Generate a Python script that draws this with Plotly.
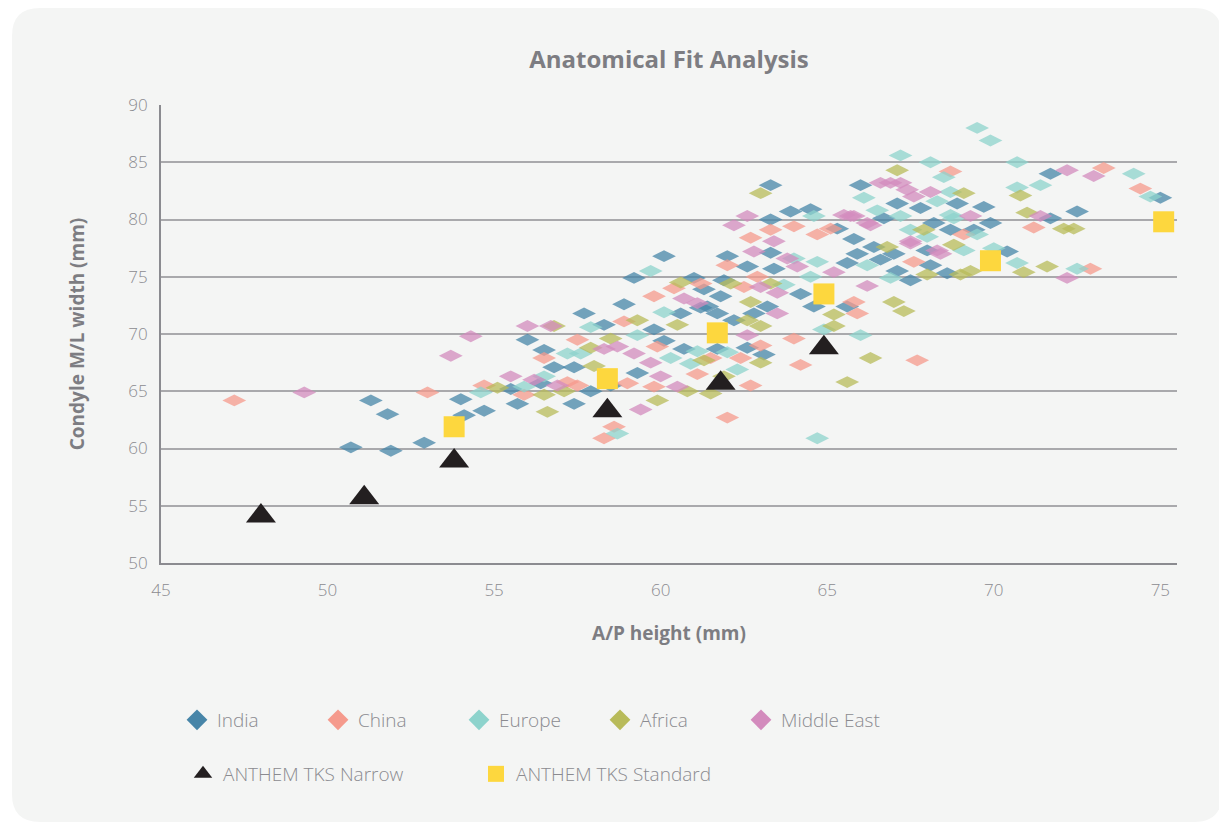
import plotly.graph_objects as go

# ---------------- data ----------------
india_x = [50.7, 51.3, 51.8, 51.9, 52.9, 54.0, 54.1, 54.7, 55.5, 55.7, 56.0, 56.5, 56.4, 56.8, 57.4, 57.4,
           57.7, 57.9, 58.3, 58.5, 58.9, 59.2, 59.3, 59.8, 60.1, 60.1, 60.6, 60.7, 61.0, 61.2, 61.3, 61.4,
           61.7, 61.7, 61.8, 61.9, 62.0, 62.2, 62.6, 62.6, 62.8, 63.1, 63.2, 63.3, 63.3, 63.3, 63.4, 63.9,
           64.2, 64.5, 64.6, 65.3, 65.6, 65.6, 65.8, 65.9, 66.0, 66.4, 66.6, 66.7, 67.0, 67.1, 67.1, 67.5,
           67.8, 68.0, 68.1, 68.2, 68.6, 68.7, 68.9, 69.4, 69.7, 69.9, 70.4, 71.7, 71.7, 72.5, 75.0]
india_y = [60.1, 64.2, 63.0, 59.8, 60.5, 64.3, 62.9, 63.3, 65.2, 63.9, 69.5, 68.6, 65.7, 67.1, 67.1, 63.9,
           71.8, 65.0, 70.8, 65.5, 72.6, 74.9, 66.6, 70.4, 69.4, 76.8, 71.8, 68.7, 74.9, 72.3, 73.9, 72.4,
           71.8, 68.7, 73.3, 74.7, 76.8, 71.2, 75.9, 68.8, 71.8, 68.2, 72.4, 83.0, 80.0, 77.1, 75.7, 80.7,
           73.5, 80.9, 72.4, 79.2, 76.2, 72.4, 78.3, 77.0, 83.0, 77.6, 76.5, 80.1, 77.0, 81.4, 75.5, 74.7,
           81.0, 77.3, 76.0, 79.7, 75.3, 79.1, 81.4, 79.1, 81.1, 79.7, 77.2, 80.1, 84.0, 80.7, 81.9]

china_x = [47.2, 53.0, 54.7, 55.9, 56.5, 57.2, 57.5, 57.5, 58.3, 58.6, 58.9, 59.0, 59.8, 59.8, 59.9, 60.4,
           61.1, 61.2, 61.5, 62.0, 62.0, 62.4, 62.5, 62.7, 62.7, 62.9, 63.0, 63.3, 64.0, 64.0, 64.2, 64.7,
           65.1, 65.8, 65.9, 67.6, 67.7, 68.7, 69.1, 71.2, 72.9, 73.3, 74.4]
china_y = [64.2, 64.9, 65.5, 64.7, 67.9, 65.8, 69.5, 65.5, 60.9, 61.9, 71.1, 65.7, 73.3, 65.4, 68.9, 74.0,
           66.5, 74.4, 67.9, 62.7, 76.0, 67.9, 74.1, 78.4, 65.5, 75.0, 69.0, 79.1, 69.6, 79.4, 67.3, 78.7,
           79.2, 72.8, 71.8, 76.3, 67.7, 84.2, 78.7, 79.3, 75.7, 84.5, 82.7]

europe_x = [54.6, 55.9, 56.5, 57.2, 57.6, 57.9, 58.7, 59.3, 59.7, 60.1, 60.3, 60.9, 61.1, 62.0, 62.3, 63.7,
            64.0, 64.5, 64.6, 64.7, 64.7, 64.9, 66.0, 66.1, 66.2, 66.5, 66.9, 67.2, 67.2, 67.5, 68.0, 68.1,
            68.3, 68.5, 68.7, 68.7, 68.8, 69.1, 69.5, 69.5, 69.9, 70.0, 70.7, 70.7, 70.7, 71.4, 72.5, 74.2,
            74.7]
europe_y = [64.9, 65.4, 66.3, 68.3, 68.3, 70.6, 61.3, 69.9, 75.5, 71.9, 67.9, 67.4, 68.5, 68.4, 66.9, 74.3,
            76.6, 75.0, 80.3, 60.9, 76.3, 70.4, 69.9, 81.9, 76.0, 80.8, 74.9, 85.6, 80.3, 79.1, 78.5, 85.0,
            81.6, 83.7, 82.4, 80.4, 80.1, 77.3, 88.0, 78.7, 86.9, 77.5, 85.0, 82.8, 76.2, 83.0, 75.7, 84.0,
            82.0]

africa_x = [55.1, 56.5, 56.6, 56.8, 57.1, 57.9, 58.0, 58.5, 59.3, 59.9, 60.5, 60.6, 60.8, 61.3, 61.5, 61.9,
            62.1, 62.6, 62.7, 63.0, 63.0, 63.0, 63.3, 65.2, 65.2, 65.6, 66.3, 66.8, 67.0, 67.1, 67.3, 67.9,
            68.0, 68.8, 69.0, 69.1, 69.3, 70.8, 70.9, 71.0, 71.6, 72.1, 72.4]
africa_y = [65.3, 64.7, 63.2, 70.7, 65.0, 68.8, 67.2, 69.6, 71.2, 64.2, 70.8, 74.5, 65.0, 67.7, 64.8, 66.3,
            74.4, 71.2, 72.8, 82.3, 70.7, 67.5, 74.4, 70.7, 71.7, 65.8, 67.9, 77.6, 72.8, 84.3, 72.0, 79.1,
            75.2, 77.8, 75.2, 82.3, 75.5, 82.1, 75.4, 80.6, 75.9, 79.2, 79.2]

mideast_x = [49.3, 53.7, 54.3, 55.5, 56.0, 56.2, 56.7, 56.9, 58.3, 58.7, 59.2, 59.4, 59.7, 60.0, 60.5, 60.7,
             61.1, 62.2, 62.6, 62.6, 62.8, 63.0, 63.4, 63.5, 63.5, 63.8, 64.1, 65.2, 65.5, 65.7, 65.8, 66.2,
             66.2, 66.3, 66.6, 66.9, 67.2, 67.4, 67.5, 67.5, 67.6, 68.1, 68.3, 68.4, 69.3, 71.4, 72.2, 72.2,
             73.0]
mideast_y = [64.9, 68.1, 69.8, 66.3, 70.7, 66.0, 70.7, 65.5, 68.7, 68.9, 68.3, 63.4, 67.5, 66.3, 65.4, 73.1,
             72.7, 79.5, 80.3, 69.9, 77.2, 74.1, 78.1, 73.6, 71.8, 76.6, 75.9, 75.4, 80.4, 80.3, 80.3, 74.2,
             79.7, 79.5, 83.2, 83.2, 83.2, 82.6, 77.9, 78.1, 82.0, 82.4, 77.3, 77.0, 80.3, 80.3, 84.3, 74.9,
             83.8]

narrow_x = [48.0, 51.1, 53.8, 58.4, 61.8, 64.9]
narrow_y = [54.1, 55.7, 58.9, 63.3, 65.7, 68.8]

standard_x = [53.8, 58.4, 61.7, 64.9, 69.9, 75.1]
standard_y = [61.9, 66.1, 70.1, 73.5, 76.4, 79.8]

x_ticks = [45, 50, 55, 60, 65, 70, 75]
y_ticks = [50, 55, 60, 65, 70, 75, 80, 85, 90]

regions = [
    ("India", india_x, india_y, "#4785a8"),
    ("China", china_x, china_y, "#f59a8c"),
    ("Europe", europe_x, europe_y, "#8dd3cc"),
    ("Africa", africa_x, africa_y, "#b8bb5a"),
    ("Middle East", mideast_x, mideast_y, "#d38bbd"),
]

# ---------------- figure ----------------
W, H = 1227, 823
OFF = 8  # page body margin
L, R, T, B = 161 - OFF, 1177 - OFF, 105 - OFF, 563 - OFF
FONT = "Open Sans"
GREY = "#8b8b90"
DARK = "#7d7d82"

fig = go.Figure()

for name, xs, ys, col in regions:
    fig.add_trace(go.Scatter(
        x=xs, y=ys, mode="markers", name=name, legendgroup=name, showlegend=False,
        marker=dict(symbol="diamond-wide", size=17, color=col, opacity=0.75, line=dict(width=0)),
        hoverinfo="x+y+name"))

for name, xs, ys, col in regions:
    fig.add_trace(go.Scatter(
        x=[None], y=[None], mode="markers", name=name, legendgroup=name, showlegend=True,
        legend="legend",
        marker=dict(symbol="diamond", size=16, color=col, line=dict(width=0))))

fig.add_trace(go.Scatter(
    x=narrow_x, y=narrow_y, mode="markers", name="ANTHEM TKS Narrow", legend="legend2",
    marker=dict(symbol="triangle-up", size=26, color="#231f20", line=dict(width=0))))
fig.add_trace(go.Scatter(
    x=standard_x, y=standard_y, mode="markers", name="ANTHEM TKS Standard", legend="legend2",
    marker=dict(symbol="square", size=21, color="#fdd73e", line=dict(width=0))))


def px_x(p):
    return (p - OFF - L) / (R - L)


def px_y(p):
    return (B - (p - OFF)) / (B - T)


def pt(a, b):
    return f"{px_x(a):.5f},{px_y(b):.5f}"


cl, ct, cr, cb, rad = 12, 8, 1222, 822, 28
card = (f"M{pt(cl + rad, ct)} L{pt(cr - rad, ct)} Q{pt(cr, ct)} {pt(cr, ct + rad)} "
        f"L{pt(cr, cb - rad)} Q{pt(cr, cb)} {pt(cr - rad, cb)} L{pt(cl + rad, cb)} "
        f"Q{pt(cl, cb)} {pt(cl, cb - rad)} L{pt(cl, ct + rad)} Q{pt(cl, ct)} {pt(cl + rad, ct)} Z")

fig.update_layout(
    width=W, height=H,
    margin=dict(l=L, r=W - R, t=T, b=H - B, pad=0),
    paper_bgcolor="white",
    plot_bgcolor="rgba(0,0,0,0)",
    shapes=[dict(type="path", path=card, xref="paper", yref="paper",
                 fillcolor="#f4f5f4", line=dict(width=0), layer="below")],
    title=dict(text="<b>Anatomical Fit Analysis</b>", x=0.5, xref="paper", xanchor="center",
               y=1 - (60 - OFF) / H, yref="container", yanchor="middle",
               font=dict(family=FONT, size=24, color=DARK)),
    font=dict(family=FONT, color=GREY),
    xaxis=dict(
        range=[45, 75.5], tickvals=x_ticks, showgrid=False, zeroline=False,
        showline=True, linecolor=GREY, linewidth=2, ticks="", ticklabelstandoff=11,
        tickfont=dict(family=FONT, size=17, color=GREY, weight=300),
        title=dict(text="<b>A/P height (mm)</b>", standoff=26,
                   font=dict(family=FONT, size=19, color=DARK))),
    yaxis=dict(
        range=[50, 90], tickvals=y_ticks, showgrid=True, gridcolor="#a9a9ac", gridwidth=1.5,
        zeroline=False, showline=True, linecolor=GREY, linewidth=2, ticks="",
        ticklabelstandoff=8,
        tickfont=dict(family=FONT, size=17, color=GREY, weight=300),
        title=dict(text="<b>Condyle M/L width (mm)</b>", standoff=39,
                   font=dict(family=FONT, size=19, color=DARK))),
    legend=dict(orientation="h", x=px_x(177), xanchor="left", y=px_y(720), yanchor="middle",
                entrywidth=96, entrywidthmode="pixels", bgcolor="rgba(0,0,0,0)",
                font=dict(family=FONT, size=19, color=GREY, weight=300), traceorder="normal"),
    legend2=dict(orientation="h", x=px_x(183), xanchor="left", y=px_y(774), yanchor="middle",
                 entrywidth=248, entrywidthmode="pixels", bgcolor="rgba(0,0,0,0)",
                 font=dict(family=FONT, size=19, color=GREY, weight=300), traceorder="normal"),
    showlegend=True,
)

fig.write_html("out.html")
